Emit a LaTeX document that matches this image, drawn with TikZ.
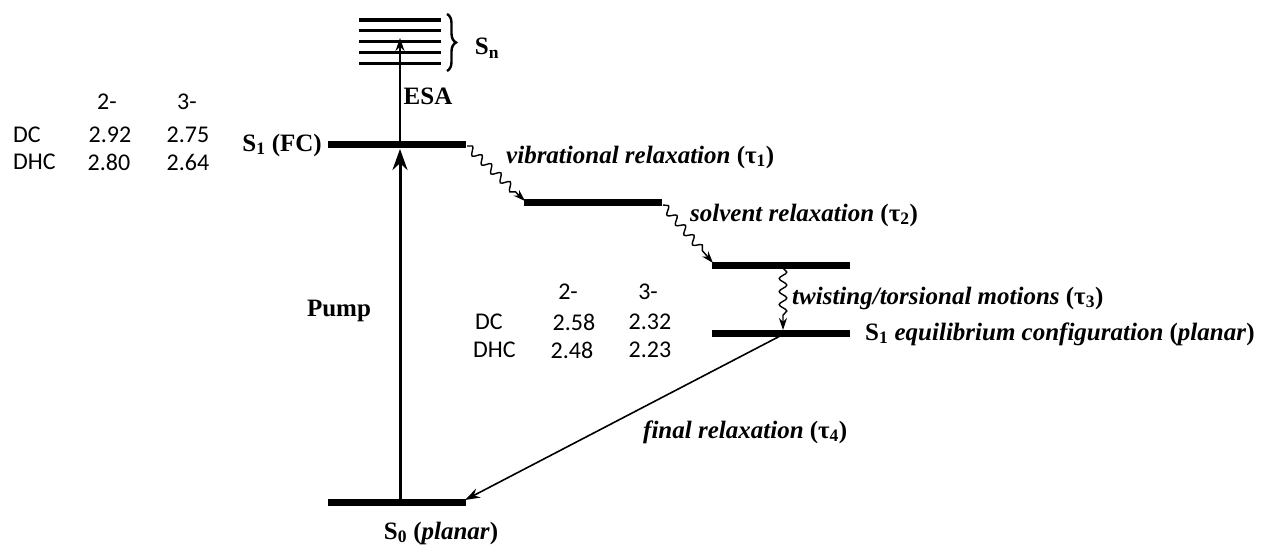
\documentclass[tikz,border=0pt]{standalone}
\usepackage{fontspec}
\setmainfont{Liberation Serif}
\newfontfamily\tabfont{Carlito}
\usetikzlibrary{arrows.meta,calc,decorations.pathmorphing,decorations.pathreplacing}
\begin{document}
\begin{tikzpicture}[x=1pt,y=-1pt,
  level/.style={line width=7pt},
  sublevel/.style={line width=3.5pt},
  lbl/.style={font=\fontsize{25}{28}\selectfont\bfseries, inner sep=0pt},
  ilbl/.style={font=\fontsize{25}{28}\selectfont\bfseries\itshape, anchor=west, inner sep=0pt},
  tab/.style={font=\fontsize{24}{28}\selectfont\tabfont, inner sep=0pt},
  wavy/.style={line width=1.4pt, decorate, decoration={snake, amplitude=3.8pt, segment length=13pt, post length=11pt},
    -{Stealth[length=12pt,width=8pt]}},
  thinarrow/.style={line width=1.6pt, -{Stealth[length=15pt,width=10pt,inset=5pt]}},
]
\useasboundingbox (0,0) rectangle (1261,548);

% level coordinates
\coordinate (s1l) at (328,145); \coordinate (s1r) at (466,145);
\coordinate (s0l) at (328,502); \coordinate (s0r) at (466,502);
\coordinate (b2l) at (524,203); \coordinate (b2r) at (662,203);
\coordinate (b3l) at (712,265); \coordinate (b3r) at (850,265);
\coordinate (b4l) at (712,333); \coordinate (b4r) at (850,333);
\coordinate (pumpbase) at (400,502);
\coordinate (pumptip) at (400,149);
\coordinate (esabase) at (400,141);
\coordinate (esatip) at (400,38);
\coordinate (b3mid) at (783,268);
\coordinate (b4mid) at (783,330);
\coordinate (b4out) at (782,335);
\coordinate (s0in) at (465,500);
\coordinate (w1s) at (467,146);
\coordinate (w1e) at (525,201);
\coordinate (w2s) at (663,205);
\coordinate (w2e) at (713,263);

% Sn manifold
\foreach \yy in {20,30.5,41.5,52.3,63.3}
  \draw[sublevel] (359,\yy) -- (441,\yy);
\draw[line width=2.4pt, decorate, decoration={brace, amplitude=9pt}] (447,14) -- (447,71);

% levels
\draw[level] (s1l) -- (s1r);
\draw[level] (s0l) -- (s0r);
\draw[level] (b2l) -- (b2r);
\draw[level] (b3l) -- (b3r);
\draw[level] (b4l) -- (b4r);

% arrows
\draw[line width=3pt, -{Stealth[length=21pt,width=15pt]}] (pumpbase) -- (pumptip);
\draw[line width=1.4pt, -{Stealth[length=13pt,width=9pt]}] (esabase) -- (esatip);
\draw[wavy] (w1s) -- (w1e);
\draw[wavy] (w2s) -- (w2e);
\draw[wavy] (b3mid) -- (b4mid);
\draw[thinarrow] (b4out) -- (s0in);

% labels
\node[lbl] (sn) at (487,48) {S\textsubscript{n}};
\node[lbl] (esa) at (428,96) {ESA};
\node[lbl, anchor=east] (s1fc) at (322,145) {S\textsubscript{1} (FC)};
\node[lbl] (pump) at (339,311) {Pump};
\node[lbl] (s0) at (441,533) {S\textsubscript{0} (\textit{planar})};
\node[ilbl] (vib) at (506,157) {vibrational relaxation \textup{(τ\textsubscript{1})}};
\node[ilbl] (solv) at (690,215) {solvent relaxation \textup{(τ\textsubscript{2})}};
\node[ilbl] (twist) at (792,298) {twisting/torsional motions \textup{(τ\textsubscript{3})}};
\node[ilbl] (final) at (643,432) {final relaxation \textup{(τ\textsubscript{4})}};
\node[lbl, anchor=west] (eq) at (865,334) {S\textsubscript{1} \textit{equilibrium configuration} (\textit{planar})};

% table 1
\node[tab] (t1a) at (107,102) {2-};
\node[tab] (t1b) at (187,102) {3-};
\node[tab, anchor=west] (t1c) at (13,135) {DC};
\node[tab] (t1d) at (110,135) {2.92};
\node[tab] (t1e) at (188,135) {2.75};
\node[tab, anchor=west] (t1f) at (13,162) {DHC};
\node[tab] (t1g) at (109,162) {2.80};
\node[tab] (t1h) at (188,162) {2.64};

% table 2
\node[tab] (t2a) at (568,292) {2-};
\node[tab] (t2b) at (648,292) {3-};
\node[tab, anchor=west] (t2c) at (475,322) {DC};
\node[tab] (t2d) at (574,322) {2.58};
\node[tab] (t2e) at (650,322) {2.32};
\node[tab, anchor=west] (t2f) at (473,350) {DHC};
\node[tab] (t2g) at (572,350) {2.48};
\node[tab] (t2h) at (650,350) {2.23};
\end{tikzpicture}
\end{document}
